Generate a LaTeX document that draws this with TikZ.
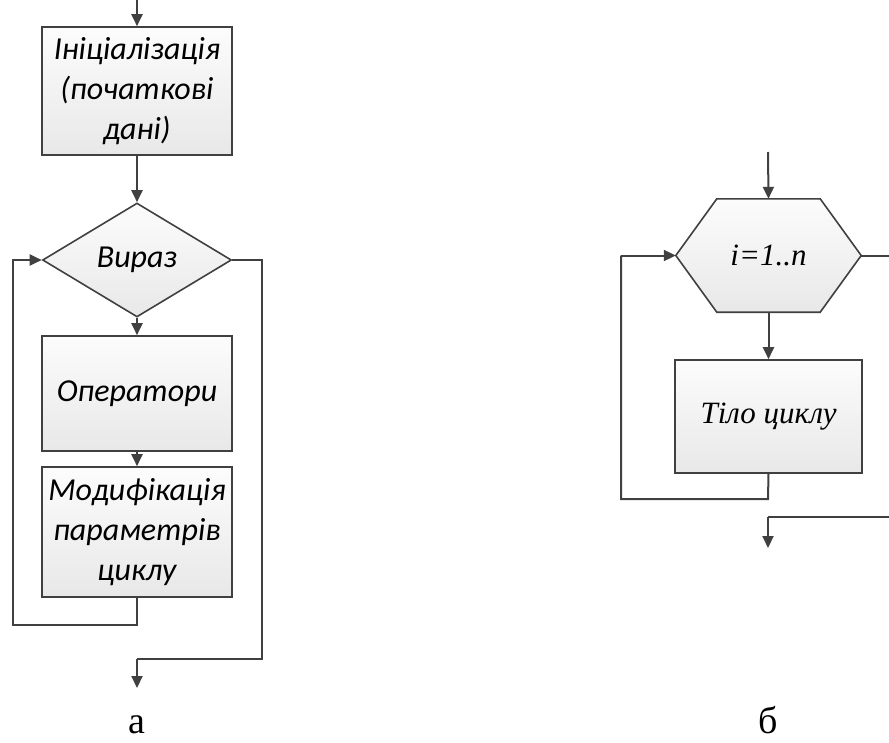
\documentclass[tikz,border=0pt]{standalone}
\usepackage{fontspec}
\setmainfont{Liberation Serif}
\newfontfamily\blockfont{Carlito}
\usetikzlibrary{shapes.geometric,arrows.meta,backgrounds}

\definecolor{lineclr}{HTML}{404040}
\definecolor{fillhi}{HTML}{FCFCFC}
\definecolor{filllo}{HTML}{E8E8E8}

\tikzset{
  shaded/.style={draw=lineclr, line width=1.6pt, top color=fillhi, bottom color=filllo},
  block/.style={shaded, inner sep=0pt, align=center, text=black},
  leftblock/.style={block, font=\blockfont\itshape\fontsize{32}{40}\selectfont},
  righttext/.style={inner sep=0pt, align=center, text=black, font=\itshape\fontsize{31}{34}\selectfont},
  rightblock/.style={block, righttext},
  flow/.style={draw=lineclr, line width=2pt, line join=miter},
  arrowflow/.style={flow, -{Triangle[width=11pt,length=12pt]}},
  caption/.style={font=\fontsize{38}{40}\selectfont, anchor=base, inner sep=0pt}
}

\begin{document}
\begin{tikzpicture}[x=1pt,y=-1pt]
\useasboundingbox (0,0) rectangle (889,742);
\clip (0,0) rectangle (889,742);

% ---------- a: while loop with initialisation ----------
\node[leftblock, minimum width=190pt, minimum height=128pt] (init) at (137,91)
  {Ініціалізація\\(початкові\\дані)};
\node[leftblock, diamond, aspect=1.66, minimum width=189pt, minimum height=114pt] (cond) at (137,260)
  {Вираз};
\node[leftblock, minimum width=190pt, minimum height=115pt] (ops) at (137,393.5)
  {Оператори};
\node[leftblock, minimum width=190pt, minimum height=130pt] (mod) at (137,532)
  {Модифікація\\параметрів\\циклу};

\coordinate (ain) at (137,-5);
\coordinate (aback1) at (137,625);
\coordinate (aback2) at (13,625);
\coordinate (aback3) at (13,260);
\coordinate (aexit1) at (262,260);
\coordinate (aexit2) at (262,659);
\coordinate (aexit3) at (137,659);
\coordinate (aout) at (137,688);

\draw[arrowflow] (ain) -- (init.north);
\draw[arrowflow] (init.south) -- (cond.north);
\draw[arrowflow] (cond.south) -- (ops.north);
\draw[arrowflow] (ops.south) -- (mod.north);
\draw[arrowflow] (mod.south) -- (aback1) -- (aback2) -- (aback3) -- (cond.west);
\draw[flow] (cond.east) -- (aexit1) -- (aexit2) -- (aexit3);
\draw[arrowflow] (aexit3) -- (aout);

\node[caption] (capa) at (137,733) {а};

% ---------- б: counted loop ----------
% loop header: text node, hexagon outline drawn behind it
\node[righttext, minimum width=185pt, minimum height=113pt] (hex) at (768.5,255.5) {i=1..n};
\begin{pgfonlayer}{background}
  \draw[shaded, line join=miter]
    ([xshift=41pt]hex.north west) -- ([xshift=-41pt]hex.north east) -- (hex.east)
    -- ([xshift=-41pt]hex.south east) -- ([xshift=41pt]hex.south west) -- (hex.west) -- cycle;
\end{pgfonlayer}
\node[rightblock, minimum width=187pt, minimum height=113pt] (body) at (768.5,416.5)
  {Тіло циклу};

\coordinate (bin) at (768,152);
\coordinate (bback1) at (768,499);
\coordinate (bback2) at (621,499);
\coordinate (bback3) at (621,255.5);
\coordinate (bexit1) at (900,255.5);
\coordinate (bexit2) at (900,517);
\coordinate (bexit3) at (768,517);
\coordinate (bout) at (768,548);

\draw[arrowflow] (bin) -- (hex.north);
\draw[arrowflow] (hex.south) -- (body.north);
\draw[flow] (body.south) -- (bback1) -- (bback2) -- (bback3);
\draw[arrowflow] (bback3) -- (hex.west);
\draw[flow] (hex.east) -- (bexit1) -- (bexit2) -- (bexit3);
\draw[arrowflow] (bexit3) -- (bout);

\node[caption] (capb) at (768,733) {б};
\end{tikzpicture}
\end{document}
